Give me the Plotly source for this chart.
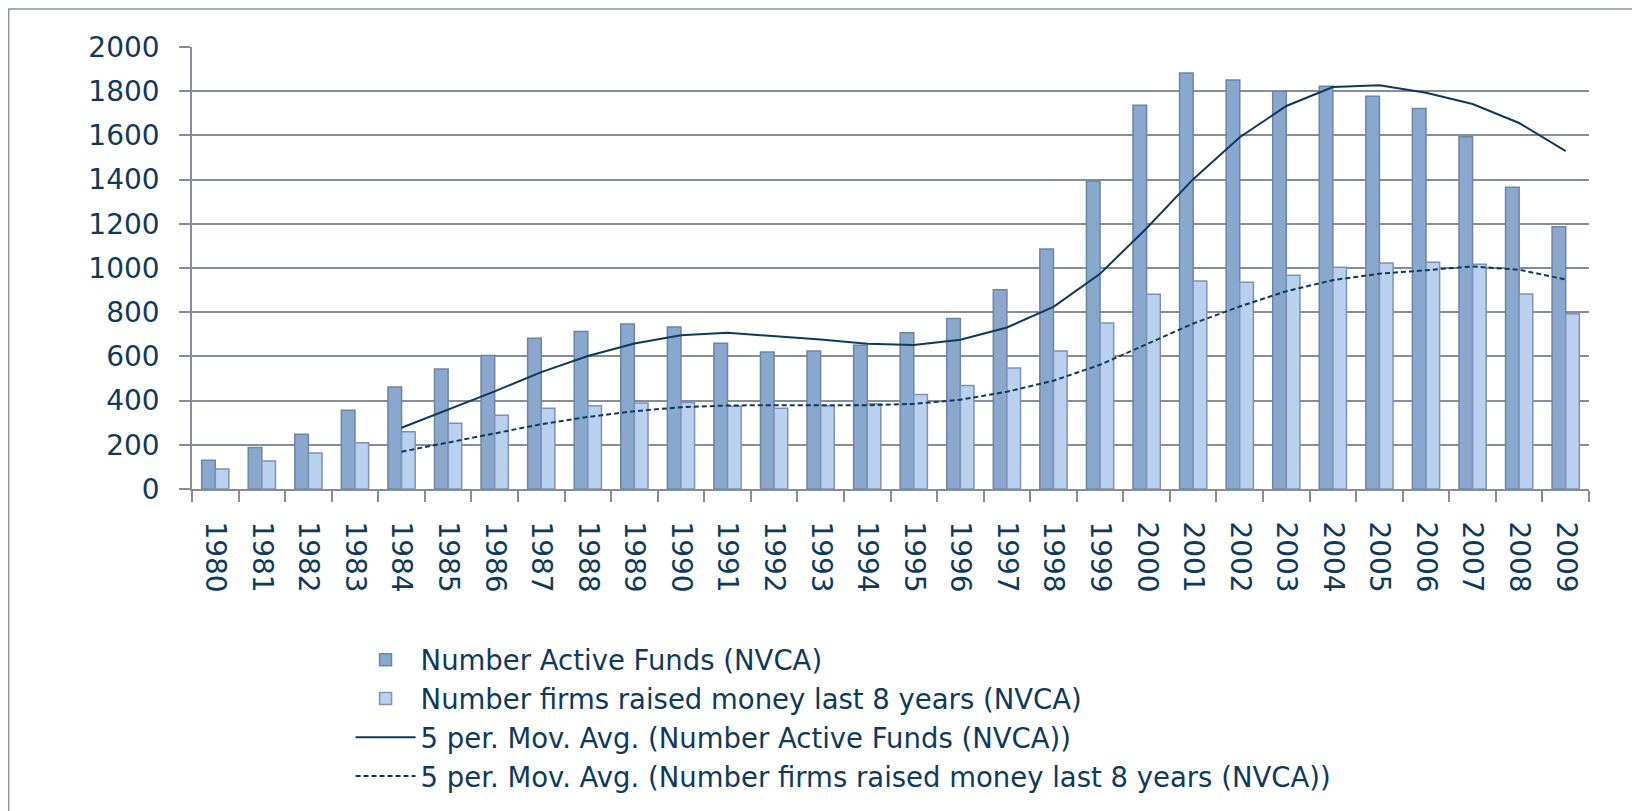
import plotly.graph_objects as go

years = [str(y) for y in range(1980, 2010)]

active_funds = [130, 188, 248, 356, 461, 543, 604, 682, 713, 747,
                733, 659, 620, 624, 650, 707, 772, 902, 1086, 1392,
                1736, 1882, 1851, 1799, 1822, 1777, 1722, 1594, 1365, 1187]

firms_raised = [91, 127, 163, 209, 259, 298, 334, 365, 377, 389,
                391, 374, 365, 377, 386, 428, 468, 548, 624, 751,
                881, 941, 935, 967, 1003, 1023, 1026, 1017, 882, 793]

# 5 period moving averages as drawn in the chart
ma_active = [None, None, None, None, 277, 359, 442, 529, 602, 658,
             696, 707, 693, 676, 657, 652, 675, 731, 824, 974,
             1180, 1402, 1592, 1733, 1819, 1827, 1793, 1742, 1656, 1529]

ma_firms = [None, None, None, None, 169, 211, 253, 293, 326, 352,
            370, 378, 379, 379, 379, 385, 404, 440, 490, 562,
            656, 749, 826, 895, 945, 974, 990, 1007, 992, 948]

text_col = '#0E3A5C'
line_col = '#0B3A5F'
grid_col = '#878E99'
font_name = 'DejaVu Sans'

fig = go.Figure()
fig.add_trace(go.Bar(
    x=years, y=active_funds,
    name='Number Active Funds (NVCA)',
    offsetgroup='a',
    marker=dict(color='#88A8CE', line=dict(color='#6D85A8', width=1.5))
))
fig.add_trace(go.Bar(
    x=years, y=firms_raised,
    name='Number firms raised money last 8 years (NVCA)',
    offsetgroup='b',
    marker=dict(color='#B9D1EE', line=dict(color='#7D93B5', width=1.5))
))
fig.add_trace(go.Scatter(
    x=years, y=ma_active,
    mode='lines',
    offsetgroup='a',
    name='5 per. Mov. Avg. (Number Active Funds (NVCA))',
    line=dict(color=line_col, width=2)
))
fig.add_trace(go.Scatter(
    x=years, y=ma_firms,
    mode='lines',
    offsetgroup='b',
    name='5 per. Mov. Avg. (Number firms raised money last 8 years (NVCA))',
    line=dict(color=line_col, width=2, dash='5px,3px')
))

# page body has an 8px margin, so the figure is sized to fit inside it
fig.update_layout(
    width=1632, height=803,
    margin=dict(l=184, r=51, t=39, b=322, autoexpand=False),
    plot_bgcolor='white',
    paper_bgcolor='white',
    barmode='group',
    bargap=0.415,
    bargroupgap=0,
    font=dict(family=font_name, size=28, color=text_col),
    legend=dict(
        font=dict(family=font_name, size=27.5, color=text_col),
        x=0.1135, y=-0.331,
        xanchor='left', yanchor='top',
        itemwidth=60,
        tracegroupgap=0,
        bgcolor='rgba(0,0,0,0)'
    ),
    shapes=[dict(
        type='rect', xref='paper', yref='paper',
        x0=-0.1312, x1=1.0358, y0=-0.8, y1=1.0859,
        line=dict(color='#8C96A0', width=1.5),
        layer='below'
    )]
)

fig.update_yaxes(
    range=[0, 2000],
    tickvals=list(range(0, 2001, 200)),
    showgrid=True, gridcolor=grid_col, gridwidth=1.6,
    showline=True, linecolor=grid_col, linewidth=1.6,
    ticks='outside', ticklen=11, tickcolor=grid_col, tickwidth=1.6,
    ticklabelstandoff=14,
    zeroline=False,
    automargin=False,
    tickfont=dict(size=28, color=text_col)
)
fig.update_xaxes(
    type='category',
    showline=True, linecolor=grid_col, linewidth=1.6,
    ticks='outside', ticklen=11, tickcolor=grid_col, tickwidth=1.6,
    tickson='boundaries',
    tickangle=90,
    ticklabelstandoff=25,
    automargin=False,
    tickfont=dict(size=28, color=text_col)
)

fig.write_html('out.html')
